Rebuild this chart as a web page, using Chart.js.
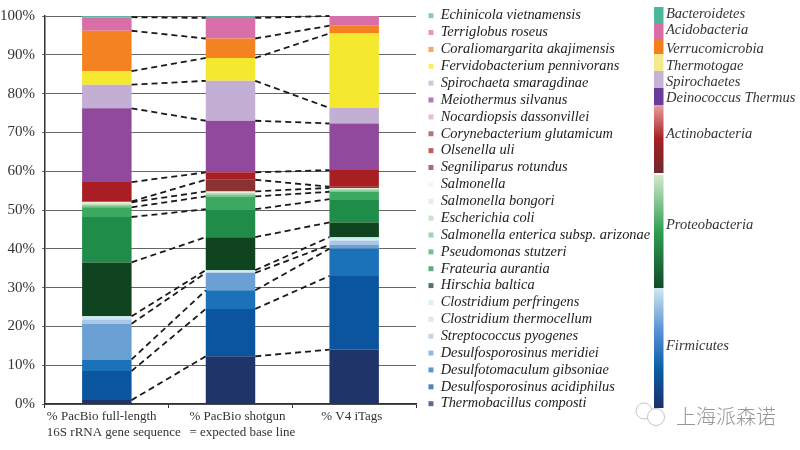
<!DOCTYPE html>
<html><head><meta charset="utf-8">
<style>html,body{margin:0;padding:0;background:#fff}canvas{display:block}</style>
<script src="https://cdn.jsdelivr.net/npm/chart.js@4"></script>
</head><body><canvas id="c" width="800" height="450"></canvas>
<script>
const samples = [['% PacBio full-length','16S rRNA gene sequence'],['% PacBio shotgun','= expected base line'],['% V4 iTags']];
const yTicks = [0,10,20,30,40,50,60,70,80,90,100];

const thermobacillus = [1, 12.3, 14];
const acidiphilus = [7.5, 12.2, 19];
const gibsoniae = [3, 4.8, 7];
const meridiei = [9.2, 4.5, 1];
const pyogenes = [1, 0, 1];
const thermocellum = [0.5, 0.2, 0.4];
const perfringens = [0.4, 0.5, 0.6];
const hirschia = [13.9, 8.5, 3.8];
const frateuria = [11.7, 7.2, 6];
const pseudomonas = [2.5, 3.3, 1.9];
const enterica = [0.5, 0.5, 0.4];
const ecoli = [0.3, 0.4, 0.3];
const bongori = [0.3, 0.2, 0.2];
const salmonella = [0.2, 0.2, 0.1];
const segniliparus = [0.2, 3, 0.3];
const olsenella = [5, 1.9, 4.3];
const corynebacterium = [0, 0, 0];
const nocardiopsis = [0, 0, 0];
const meiothermus = [19, 13.3, 12];
const spirochaeta = [6.1, 10.3, 4];
const fervidobacterium = [3.5, 5.9, 19.2];
const coraliomargarita = [10.4, 5, 2];
const terriglobus = [3.5, 5.3, 2.5];
const echinicola = [0.3, 0.5, 0];

const series = [
 ['Thermobacillus composti', thermobacillus, '#1f3468', 1],
 ['Desulfosporosinus acidiphilus', acidiphilus, '#0b549e', 1],
 ['Desulfotomaculum gibsoniae', gibsoniae, '#1b72b8', 1],
 ['Desulfosporosinus meridiei', meridiei, '#6ba0d5', 1],
 ['Streptococcus pyogenes', pyogenes, '#a8c6e6', 0],
 ['Clostridium thermocellum', thermocellum, '#cfe0f0', 0],
 ['Clostridium perfringens', perfringens, '#c9ecef', 1],
 ['Hirschia baltica', hirschia, '#10431f', 1],
 ['Frateuria aurantia', frateuria, '#1f8c4a', 1],
 ['Pseudomonas stutzeri', pseudomonas, '#3ba960', 1],
 ['Salmonella enterica subsp. arizonae', enterica, '#7cc48c', 0],
 ['Escherichia coli', ecoli, '#b0dcb0', 0],
 ['Salmonella bongori', bongori, '#d5ecd0', 0],
 ['Salmonella', salmonella, '#eef6e0', 1],
 ['Segniliparus rotundus', segniliparus, '#8a3232', 1],
 ['Olsenella uli', olsenella, '#a81e22', 1],
 ['Corynebacterium glutamicum', corynebacterium, '#96403f', 0],
 ['Nocardiopsis dassonvillei', nocardiopsis, '#e3a5ad', 0],
 ['Meiothermus silvanus', meiothermus, '#90499c', 1],
 ['Spirochaeta smaragdinae', spirochaeta, '#c3aed4', 1],
 ['Fervidobacterium pennivorans', fervidobacterium, '#f4e92e', 1],
 ['Coraliomargarita akajimensis', coraliomargarita, '#f58220', 1],
 ['Terriglobus roseus', terriglobus, '#d96fa9', 1],
 ['Echinicola vietnamensis', echinicola, '#5ab7a0', 0]
];

const phylumNames = ['Bacteroidetes','Acidobacteria','Verrucomicrobia','Thermotogae','Spirochaetes','Deinococcus Thermus','Actinobacteria','Proteobacteria','Firmicutes'];
const phylumLabelY = [14,30,49,66,82,98,134,225,346];
const phylumTop = [7,23,40,54,71,88,105,175,288];
const phylumBottom = [23,40,54,71,88,105,173,288,408];
const phylumColors = [['#4db79b'],['#d96da5'],['#f27f20'],['#f2ea8d'],['#c4b3d6'],['#6a3d9a'],['#e6a0a0','#a52025','#6e2a2a'],['#d3e9cd','#2f9e52','#114a26'],['#cfe9ee','#5f95d8','#0b5fa5','#1a2f6d']];

const serif = "'Liberation Serif'";

const extras = {
 id:'extras',
 afterLayout(chart){
  const lg = chart.legend;
  lg.left = 426; lg.right = 654;
  lg.top = 6; lg.bottom = 445;
 },
 afterDatasetsDraw(chart){
  const {ctx} = chart;
  ctx.save();
  ctx.strokeStyle = '#1a1a1a'; ctx.lineWidth = 1.8; ctx.setLineDash([6,4]);
  series.forEach((s,i)=>{
   if(!s[3]) return;
   const els = chart.getDatasetMeta(i).data;
   for(let k=0;k<els.length-1;k++){
    ctx.beginPath();
    ctx.moveTo(els[k].x+els[k].width/2, els[k].y);
    ctx.lineTo(els[k+1].x-els[k+1].width/2, els[k+1].y);
    ctx.stroke();
   }
  });
  ctx.restore();
 },
 afterDraw(chart){
  const {ctx} = chart;
  const xs = chart.scales.x;
  ctx.save();
  ctx.font = '13px '+serif; ctx.fillStyle = '#333'; ctx.textAlign='left'; ctx.textBaseline='middle';
  const off = [-60,-41,-33];
  samples.forEach((lines,i)=>{
   lines.forEach((t,j)=> ctx.fillText(t, xs.getPixelForTick(i)+off[i], 417+j*16));
  });
  phylumNames.forEach((name,i)=>{
   const g = ctx.createLinearGradient(0,phylumTop[i],0,phylumBottom[i]);
   const cs = phylumColors[i];
   if(cs.length===1){g.addColorStop(0,cs[0]);g.addColorStop(1,cs[0]);}
   else cs.forEach((c,k)=>g.addColorStop(k/(cs.length-1),c));
   ctx.fillStyle = g;
   ctx.fillRect(654,phylumTop[i],9.5,phylumBottom[i]-phylumTop[i]);
   ctx.fillStyle = '#333';
   ctx.font = 'italic 14.5px '+serif;
   ctx.fillText(name,666,phylumLabelY[i]);
  });
  ctx.strokeStyle='#c4c4c4'; ctx.lineWidth=1;
  ctx.beginPath(); ctx.arc(644,411,8,0,Math.PI*2); ctx.stroke();
  ctx.fillStyle='#fff';
  ctx.beginPath(); ctx.arc(656,417,8.5,0,Math.PI*2); ctx.fill(); ctx.stroke();
  ctx.fillStyle='#969696';
  ctx.font = "300 20px 'Noto Sans CJK SC'";
  ctx.fillText('上海派森诺',676,416);
  ctx.restore();
 }
};

new Chart(document.getElementById('c'),{
 type:'bar',
 data:{
  labels:samples,
  datasets:series.map(s=>({label:s[0],data:s[1],backgroundColor:s[2],borderWidth:0,barPercentage:0.4,categoryPercentage:1}))
 },
 options:{
  responsive:false,animation:false,devicePixelRatio:1,
  layout:{padding:{left:0,top:12.5,bottom:42,right:144}},
  plugins:{
   tooltip:{enabled:false},
   title:{display:false},
   legend:{
    position:'right',align:'start',reverse:true,maxWidth:240,
    labels:{
     font:{family:"'Liberation Serif'",size:14.4,style:'italic'},
     color:'#222',boxWidth:5,boxHeight:5,padding:2.47,
     generateLabels(chart){
      const items = Chart.defaults.plugins.legend.labels.generateLabels(chart);
      items.forEach(it=>{it.fillStyle = it.fillStyle+'b8'; it.lineWidth = 0;});
      return items;
     }
    }
   }
  },
  scales:{
   x:{
    stacked:true,
    ticks:{display:false},
    grid:{display:true,drawOnChartArea:false,drawTicks:true,tickLength:4,color:'#333'},
    border:{color:'#333',width:1.5}
   },
   y:{
    stacked:true,min:0,max:100,
    afterBuildTicks(s){s.ticks=yTicks.map(v=>({value:v}));},
    afterFit(s){s.width=45;},
    ticks:{font:{family:"'Liberation Serif'",size:15},color:'#333',callback:v=>v+'%',padding:7},
    grid:{color:'#666',lineWidth:1,tickLength:3},
    border:{color:'#333',width:1.5}
   }
  }
 },
 plugins:[extras]
});
</script></body></html>
